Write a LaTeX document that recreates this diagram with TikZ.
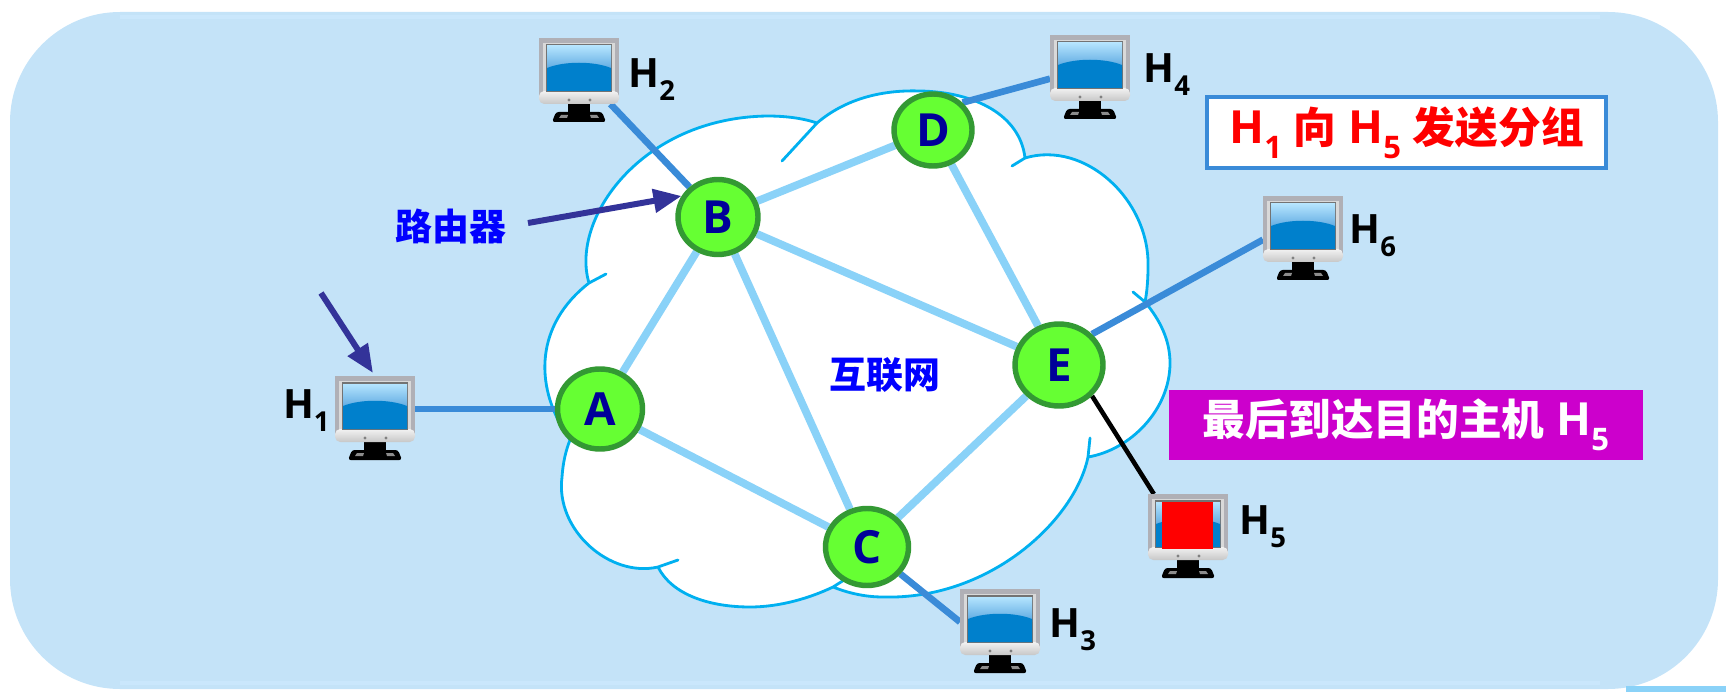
\documentclass[tikz,border=0pt]{standalone}
\usepackage{fontspec}
\usepackage{xcolor}
\setmainfont{Open Sans}
\newfontfamily\cjkfont{Noto Sans CJK SC}
\usetikzlibrary{positioning,arrows.meta,shapes.geometric}

\definecolor{panelblue}{HTML}{C4E3F8}
\definecolor{panelsheen}{HTML}{CAE7FC}
\definecolor{cloudblue}{HTML}{00B0F0}
\definecolor{linklight}{HTML}{8AD2F8}
\definecolor{linkdark}{HTML}{3A8BD8}
\definecolor{routerfill}{HTML}{66FF33}
\definecolor{routerline}{HTML}{339933}
\definecolor{routertext}{HTML}{000099}
\definecolor{pointerblue}{HTML}{333399}
\definecolor{notemagenta}{HTML}{CC00CC}
\definecolor{screensky}{HTML}{B4E4FE}
\definecolor{screenedge}{HTML}{5CA8E0}
\definecolor{screenlow}{HTML}{0080CC}
\definecolor{cabinetgray}{HTML}{B0B0B6}

\pgfdeclarelayer{under}
\pgfsetlayers{under,main}

\tikzset{
    router/.style={ellipse, draw=routerline, fill=routerfill, line width=3.1pt, inner sep=0pt,
        text=routertext, font=\fontsize{26}{30}\selectfont\bfseries},
    backbone/.style={linklight, line width=4.4pt},
    access/.style={linkdark, line width=3.8pt},
    pointer/.style={pointerblue, line width=3.4pt, -{Triangle[length=16pt,width=13pt]}},
    monitorbox/.style={rectangle, inner sep=0pt, outer sep=0pt, minimum width=1.6cm, minimum height=1.32cm},
    hostlabel/.style={inner sep=0pt, font=\fontsize{23}{26}\selectfont\bfseries},
    bluetext/.style={inner sep=0pt, text=blue, font=\fontsize{21}{24}\selectfont\bfseries\cjkfont},
    notebox/.style={inner sep=0pt, minimum height=1.42cm, font=\fontsize{26}{30}\selectfont\bfseries},
}

% lowered index after H
\newcommand{\lowidx}[1]{\raisebox{-0.32em}{\fontsize{0.68em}{1em}\selectfont #1}}
\newcommand{\cn}[1]{{\cjkfont\fontsize{24.3}{28}\selectfont #1}}

% x, y of the cabinet corner, node name
\newcommand{\monitor}[3]{
    \begin{scope}[shift={(#1,#2)}]
        \node[monitorbox] (#3) at (40,33) {};
        % stand
        \fill[black] (29,64) rectangle (51,76);
        \fill[black, rounded corners=1.5pt] (17,74) -- (63,74) -- (67,84) -- (13,84) -- cycle;
        \fill[black!45] (22,77) -- (29,77) -- (28,80) -- (20,80) -- cycle;
        \fill[black!45] (51,77) -- (58,77) -- (60,80) -- (52,80) -- cycle;
        % cabinet
        \fill[cabinetgray] (0,0) rectangle (80,58);
        \fill[white!85!black] (4,5) rectangle (76,56);
        \path[rounded corners=3pt, top color=white!95!black, bottom color=black!22] (0,53) -- (80,53) -- (80,66) -- (0,66) -- cycle;
        \fill[black!50] (30,62) circle (1.6);
        \fill[black!50] (51,62) circle (1.6);
        % screen
        \fill[black!55] (7,6) rectangle (73,54);
        \path[top color=screensky, bottom color=screenedge] (8,8) rectangle (72,32);
        \fill[screenlow] (8,30) .. controls (25,23) and (55,23) .. (72,30) -- (72,53) -- (8,53) -- cycle;
    \end{scope}
}

\begin{document}
\begin{tikzpicture}[x=0.02cm, y=-0.02cm]
    \useasboundingbox (0,0) rectangle (1726,692);

    \begin{pgfonlayer}{under}
    % panel
    \fill[panelblue, rounded corners=2.2cm] (10,12) rectangle (1718,689);
    \draw[panelsheen, line width=2.5pt] (120,17) -- (1600,17);
    \draw[panelsheen, line width=2.5pt] (120,683) -- (1600,683);
    \fill[linklight] (1626,686) rectangle (1726,692);

    % cloud, one path with the short hooks at the joints
    \filldraw[draw=cloudblue, fill=white, line width=1.6pt, line join=round]
        (565,432) .. controls (535,385) and (535,325) .. (589,283) -- (606,274) -- (589,283)
        .. controls (570,220) and (640,118) .. (767,116) .. controls (785,116) and (802,118) .. (817,123)
        -- (782,161) -- (817,123)
        .. controls (850,95) and (890,90) .. (920,91) .. controls (975,92) and (1020,115) .. (1025,158)
        -- (1012,166) -- (1025,158)
        .. controls (1085,140) and (1150,200) .. (1148,267) .. controls (1148,280) and (1147,292) .. (1145,302)
        -- (1133,292) -- (1145,302)
        .. controls (1160,320) and (1170,340) .. (1170,363) .. controls (1170,410) and (1130,450) .. (1088,457)
        -- (1090,438) -- (1088,457)
        .. controls (1075,520) and (990,600) .. (883,597) .. controls (865,597) and (848,593) .. (833,587)
        -- (860,570) -- (833,587)
        .. controls (810,598) and (780,607) .. (750,607) .. controls (710,607) and (672,595) .. (658,567)
        -- (678,560) -- (658,567)
        .. controls (610,578) and (555,530) .. (562,477) .. controls (563,462) and (566,450) .. (570,440)
        -- cycle;
    \end{pgfonlayer}

    % routers
    \node[router, minimum width=1.70cm, minimum height=1.60cm] (A) at (600,409) {A};
    \node[router, minimum width=1.60cm, minimum height=1.50cm] (B) at (718,217) {B};
    \node[router, minimum width=1.66cm, minimum height=1.54cm] (C) at (867,547) {C};
    \node[router, minimum width=1.56cm, minimum height=1.44cm] (D) at (933,130) {D};
    \node[router, minimum width=1.76cm, minimum height=1.64cm] (E) at (1059,365) {E};

    % hosts
    \monitor{335}{376}{H1}
    \monitor{539}{38}{H2}
    \monitor{960}{589}{H3}
    \monitor{1050}{35}{H4}
    \monitor{1148}{494}{H5}
    \monitor{1263}{196}{H6}

    \node[hostlabel, left=0.1cm of H1, yshift=-0.04cm] (labelH1) {H\lowidx{1}};
    \node[hostlabel, right=0.18cm of H2, yshift=-0.18cm] (labelH2) {H\lowidx{2}};
    \node[hostlabel, right=0.18cm of H3, yshift=-0.16cm] (labelH3) {H\lowidx{3}};
    \node[hostlabel, right=0.26cm of H4, yshift=-0.13cm] (labelH4) {H\lowidx{4}};
    \node[hostlabel, right=0.22cm of H5] (labelH5) {H\lowidx{5}};
    \node[hostlabel, right=0.12cm of H6, yshift=-0.13cm] (labelH6) {H\lowidx{6}};

    % the packet, already on H5
    \node[fill=red, inner sep=0pt, minimum width=1.02cm, minimum height=0.94cm] (packet) at (1187,525.5) {};

    % links go under routers and hosts
    \begin{pgfonlayer}{under}
    \draw[backbone] (A) -- (B);
    \draw[backbone] (A) -- (C);
    \draw[backbone] (B) -- (C);
    \draw[backbone] (B) -- (D);
    \draw[backbone] (B) -- (E);
    \draw[backbone] (C) -- (E);
    \draw[backbone] (D) -- (E);

    \draw[access] (H1) -- (A);
    \draw[access] (H2) -- (B);
    \draw[access] (C) -- (H3.west);
    \draw[access] (D.north east) -- (H4.195);
    \draw[access] (E.north east) -- (H6.195);
    \draw[black, line width=2.6pt] (E.south east) -- (H5.136);
    \end{pgfonlayer}

    % labels in the cloud
    \node[bluetext] (routerlabel) at (451,226) {路由器};
    \node[bluetext] (netlabel) at (885,375) {互联网};

    % pointers
    \coordinate (hosttail) at (321,293);
    \coordinate (hosthead) at (373,373);
    \coordinate (routertail) at (528,223);
    \draw[pointer] (hosttail) -- (hosthead);
    \draw[pointer] (routertail) -- (B.150);

    % notes
    \node[notebox, draw=linkdark, line width=2.3pt, fill=white, text=red, minimum width=7.98cm] (sendnote) at (1406.5,132.5)
        {H\lowidx{1} \cn{向} H\lowidx{5} \cn{发送分组}};
    \node[notebox, fill=notemagenta, text=white, minimum width=9.48cm] (arrivenote) at (1406,425)
        {\cn{最后到达目的主机} H\lowidx{5}};
\end{tikzpicture}
\end{document}
